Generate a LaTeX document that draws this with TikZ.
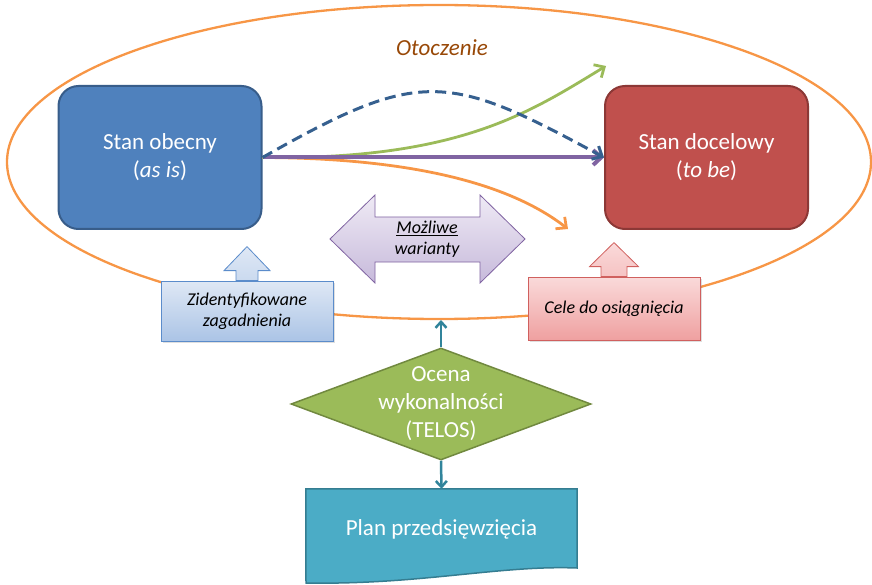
\documentclass[tikz,border=0pt]{standalone}
\usepackage{fontspec}
\setmainfont{Carlito}
\usetikzlibrary{shapes.geometric,arrows.meta,shadows}
\definecolor{obecnyfill}{HTML}{4F81BD}
\definecolor{obecnyline}{HTML}{385D8A}
\definecolor{docelowyfill}{HTML}{C0504D}
\definecolor{docelowyline}{HTML}{8C3836}
\definecolor{zagtop}{HTML}{DFE8F5}
\definecolor{zagbottom}{HTML}{ABC4E6}
\definecolor{zagline}{HTML}{5B8CCB}
\definecolor{celetop}{HTML}{FADADA}
\definecolor{celebottom}{HTML}{EFA0A0}
\definecolor{celeline}{HTML}{D0605E}
\definecolor{wartop}{HTML}{EFEAF5}
\definecolor{warbottom}{HTML}{C7BADB}
\definecolor{fiolet}{HTML}{8064A2}
\definecolor{zielen}{HTML}{9BBB59}
\definecolor{zielenline}{HTML}{71893F}
\definecolor{pomarancz}{HTML}{F79646}
\definecolor{granat}{HTML}{36608F}
\definecolor{planfill}{HTML}{4BACC6}
\definecolor{planline}{HTML}{357D91}
\definecolor{morski}{HTML}{31849B}
\definecolor{braz}{HTML}{984807}

\begin{document}
\begin{tikzpicture}[x=1pt, y=-1pt,
  stan/.style={rounded corners=20pt, line width=2pt, minimum width=203pt, minimum height=143pt,
    text=white, align=center, font=\fontsize{23}{28}\selectfont},
  cel/.style={line width=0.8pt, minimum width=172pt, align=center,
    font=\fontsize{18}{21}\selectfont\itshape,
    drop shadow={opacity=0.25, shadow xshift=1.5pt, shadow yshift=-2pt}},
  tip/.style={-{Straight Barb[length=8pt, width=15pt]}},
  maly/.style={line width=2.5pt, draw=morski, -{Straight Barb[length=6pt, width=11pt]}},
  bialy/.style={text=white, align=center, font=\fontsize{23}{28}\selectfont}]
\useasboundingbox (0,0) rectangle (872,585);

% otoczenie
\draw[pomarancz, line width=2.3pt] (439,162) ellipse [x radius=432, y radius=157];
\node[text=braz, font=\fontsize{23}{28}\selectfont\itshape] (otoczenie) at (442,48) {Otoczenie};

% stany
\node[stan, fill=obecnyfill, draw=obecnyline] (obecny) at (160,157.5) {Stan obecny\\(\textit{as is})};
\node[stan, fill=docelowyfill, draw=docelowyline] (docelowy) at (706.5,157.5) {Stan docelowy\\(\textit{to be})};
\coordinate (zielony) at (606,66);
\coordinate (pomaranczowy) at (568,229);

% sciezki
\draw[tip, pomarancz, line width=2.8pt] (obecny.east) .. controls (400,158) and (505,180) .. (pomaranczowy);
\draw[tip, zielen, line width=2.8pt] (obecny.east) .. controls (460,160) and (530,112) .. (zielony);
\draw[tip, fiolet, line width=4pt] (obecny.east) -- (docelowy.west);
\draw[tip, granat, line width=3pt, dash pattern=on 11pt off 6pt] (obecny.east) .. controls (420,68) and (447,72) .. (docelowy.west);

% warianty
\draw[fiolet, line width=0.8pt, top color=wartop, bottom color=warbottom]
  (330,239) -- (375,195) -- (375,217) -- (480,217) -- (480,195) -- (525,239)
  -- (480,283) -- (480,262) -- (375,262) -- (375,283) -- cycle;
\node[align=center, font=\fontsize{18}{21}\selectfont\itshape] (warianty) at (427,239.5) {\underline{Możliwe}\\warianty};

% zagadnienia i cele
\node[cel, minimum height=60pt, draw=zagline, top color=zagtop, bottom color=zagbottom] (zagadnienia) at (247,311) {Zidentyfikowane\\zagadnienia};
\draw[line width=0.8pt, draw=zagline, top color=zagtop, bottom color=zagtop!60!zagbottom]
  ([xshift=-11pt]zagadnienia.north) -- ++(0,-10) -- ++(-12,0) -- ++(23,-24) -- ++(23,24) -- ++(-12,0) -- ++(0,10) -- cycle;
\node[cel, minimum height=63pt, draw=celeline, top color=celetop, bottom color=celebottom] (cele) at (614,308.5) {Cele do osiągnięcia};
\draw[line width=0.8pt, draw=celeline, top color=celetop, bottom color=celetop!60!celebottom]
  ([xshift=-13pt]cele.north) -- ++(0,-10) -- ++(-11.5,0) -- ++(24.5,-24) -- ++(24.5,24) -- ++(-11.5,0) -- ++(0,10) -- cycle;

% ocena
\node[diamond, minimum width=300pt, minimum height=112pt, inner sep=0pt, fill=zielen, draw=zielenline, line width=1.5pt] (ocena) at (441,404) {};
\node[bialy] (ocenatekst) at (ocena.center) {Ocena\\wykonalności\\(TELOS)};
\coordinate (styk) at (441,320);
\draw[maly] (ocena.north) -- (styk);

% plan
\node[bialy, minimum width=271pt, minimum height=80pt] (plan) at (441.5,529) {};
\draw[fill=planfill, draw=planline, line width=1.5pt]
  (plan.north west) -- (plan.north east) -- (577,568) .. controls (500,565) and (420,585) .. (306,583) -- cycle;
\node[bialy] (plantekst) at (plan.center) {Plan przedsięwzięcia};
\draw[maly] (ocena.south) -- (plan.north);
\end{tikzpicture}
\end{document}
